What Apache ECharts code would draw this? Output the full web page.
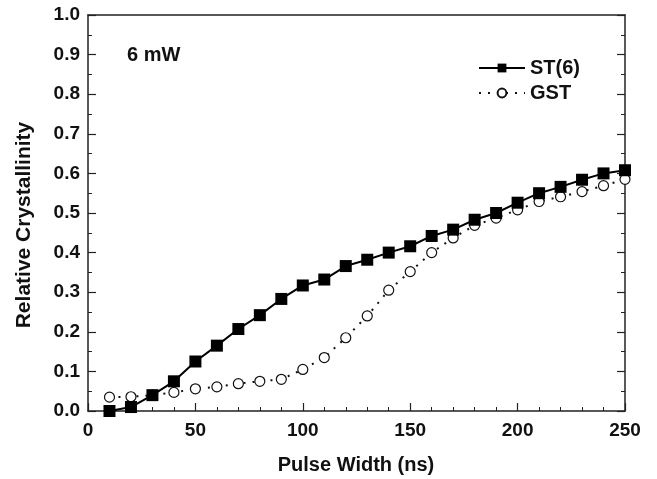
<!DOCTYPE html>
<html>
<head>
<meta charset="utf-8">
<script src="https://cdn.jsdelivr.net/npm/echarts@6/dist/echarts.min.js"></script>
<style>
html, body { margin: 0; padding: 0; background: #fff; }
#main { width: 657px; height: 479px; }
</style>
</head>
<body>
<div id="main"></div>
<script>
var pulseWidth = [10, 20, 30, 40, 50, 60, 70, 80, 90, 100, 110, 120, 130, 140, 150, 160, 170, 180, 190, 200, 210, 220, 230, 240, 250];
var st6 = [0.000, 0.010, 0.040, 0.075, 0.125, 0.165, 0.207, 0.242, 0.283, 0.317, 0.332, 0.366, 0.382, 0.400, 0.416, 0.442, 0.458, 0.483, 0.500, 0.526, 0.550, 0.566, 0.584, 0.600, 0.608];
var gst = [0.035, 0.036, 0.040, 0.047, 0.056, 0.061, 0.069, 0.075, 0.080, 0.105, 0.135, 0.185, 0.240, 0.305, 0.352, 0.400, 0.437, 0.469, 0.487, 0.508, 0.529, 0.541, 0.554, 0.569, 0.585];

function pairs(xs, ys) {
    var out = [];
    for (var i = 0; i < xs.length; i++) {
        out.push([xs[i], ys[i]]);
    }
    return out;
}

var font = 'Liberation Sans, Arial, sans-serif';
var axisCol = '#222';
var tick = { inside: true, length: 8, lineStyle: { color: axisCol, width: 1.2 } };
var minor = function (n) {
    return { show: true, splitNumber: n, length: 4, lineStyle: { color: axisCol, width: 1 } };
};
var line = { show: true, onZero: false, lineStyle: { color: axisCol, width: 1.5 } };
var labelStyle = { fontFamily: font, fontWeight: 'bold', fontSize: 19, color: '#111' };

var chart = echarts.init(document.getElementById('main'));
var option = {
    animation: false,
    grid: { left: 88, right: 32, top: 15, bottom: 68 },
    legend: {
        left: 473, top: 53,
        orient: 'vertical',
        itemWidth: 46, itemHeight: 11, itemGap: 5,
        textStyle: { fontFamily: font, fontWeight: 'bold', fontSize: 20, color: '#111', padding: [0, 0, 0, 0] },
        data: ['ST(6)', 'GST']
    },
    graphic: [{
        type: 'text', left: 127, top: 45,
        style: { text: '6 mW', fontFamily: font, fontWeight: 'bold', fontSize: 20, fill: '#111' }
    }, {
        type: 'text', x: 24, y: 225, rotation: Math.PI / 2,
        style: {
            text: 'Relative Crystallinity', fontFamily: font, fontWeight: 'bold', fontSize: 21,
            fill: '#111', align: 'center', verticalAlign: 'middle'
        }
    }, {
        type: 'text', x: 356, y: 465,
        style: {
            text: 'Pulse Width (ns)', fontFamily: font, fontWeight: 'bold', fontSize: 20,
            fill: '#111', align: 'center', verticalAlign: 'middle'
        }
    }],
    xAxis: [{
        type: 'value', min: 0, max: 250, interval: 50,
        axisLine: line,
        axisTick: tick,
        minorTick: minor(5),
        axisLabel: Object.assign({ margin: 10 }, labelStyle),
        splitLine: { show: false }
    }, {
        type: 'value', min: 0, max: 250, interval: 50, position: 'top',
        axisLine: line,
        axisTick: { show: false },
        axisLabel: { show: false },
        splitLine: { show: false }
    }],
    yAxis: [{
        type: 'value', min: 0, max: 1, interval: 0.1,
        axisLine: line,
        axisTick: tick,
        minorTick: minor(2),
        axisLabel: Object.assign({
            margin: 8,
            formatter: function (v) { return v.toFixed(1); }
        }, labelStyle),
        splitLine: { show: false }
    }, {
        type: 'value', min: 0, max: 1, interval: 0.1, position: 'right',
        axisLine: line,
        axisTick: tick,
        minorTick: minor(2),
        axisLabel: { show: false },
        splitLine: { show: false }
    }],
    series: [{
        name: 'GST', type: 'line',
        data: pairs(pulseWidth, gst),
        symbol: 'circle', symbolSize: 10,
        itemStyle: { color: '#fff', borderColor: '#111', borderWidth: 1.2 },
        lineStyle: { color: '#111', width: 2, type: [2, 7] },
        clip: true
    }, {
        name: 'ST(6)', type: 'line',
        data: pairs(pulseWidth, st6),
        symbol: 'rect', symbolSize: 12,
        itemStyle: { color: '#000' },
        lineStyle: { color: '#000', width: 2 },
        clip: true
    }]
};
chart.setOption(option);
</script>
</body>
</html>
